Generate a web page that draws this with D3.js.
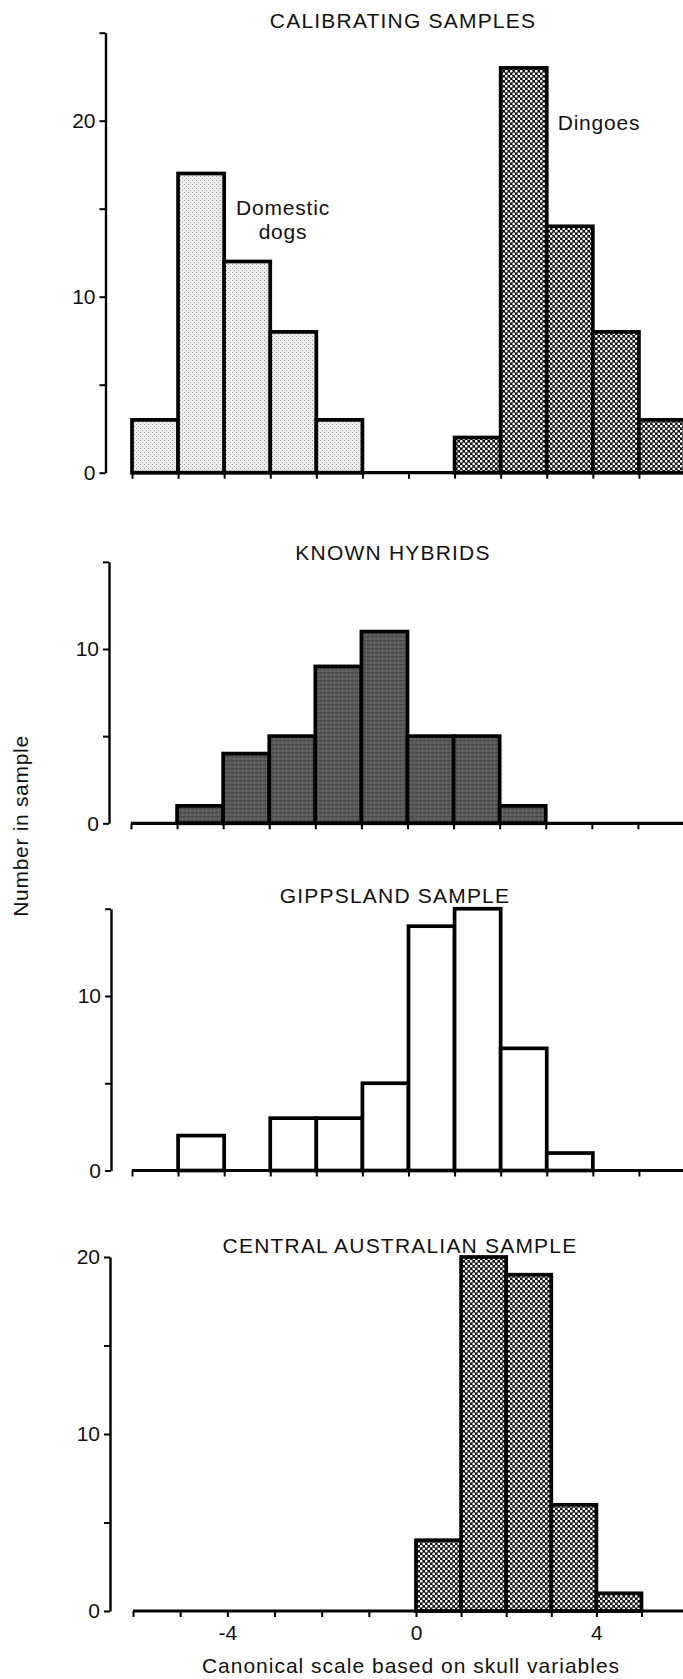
<!DOCTYPE html>
<html>
<head>
<meta charset="utf-8">
<script src="https://cdn.jsdelivr.net/npm/d3@7"></script>
<style>
  body { margin: 0; background: #fff; }
  svg text { font-family: "Liberation Sans", Arial, sans-serif; fill: #111; }
</style>
</head>
<body>
<div id="chartRegion"></div>
<script>
/* bin lower edges and counts */
var domesticBins = [-6, -5, -4, -3, -2];
var domesticCounts = [3, 17, 12, 8, 3];
var dingoBins = [1, 2, 3, 4, 5];
var dingoCounts = [2, 23, 14, 8, 3];
var hybridBins = [-5, -4, -3, -2, -1, 0, 1, 2];
var hybridCounts = [1, 4, 5, 9, 11, 5, 5, 1];
var gippslandBins = [-5, -4, -3, -2, -1, 0, 1, 2, 3];
var gippslandCounts = [2, 0, 3, 3, 5, 14, 15, 7, 1];
var centralBins = [0, 1, 2, 3, 4];
var centralCounts = [4, 20, 19, 6, 1];

var xTicks = [-6, -5, -4, -3, -2, -1, 0, 1, 2, 3, 4, 5];
var xTickLabels = [-4, 0, 4];

var titles = ["CALIBRATING SAMPLES", "KNOWN HYBRIDS", "GIPPSLAND SAMPLE", "CENTRAL AUSTRALIAN SAMPLE"];
var yMax = [25, 15, 15, 20];

var W = 683, H = 1679;
var svg = d3.select("#chartRegion").append("svg").attr("width", W).attr("height", H);

/* fill patterns standing in for the printed screens */
var defs = svg.append("defs");
var p1 = defs.append("pattern").attr("id", "light").attr("patternUnits", "userSpaceOnUse").attr("width", 4).attr("height", 4);
p1.append("rect").attr("width", 4).attr("height", 4).attr("fill", "#ececec");
p1.append("rect").attr("x", 0).attr("y", 0).attr("width", 1).attr("height", 1).attr("fill", "#9a9a9a");
p1.append("rect").attr("x", 2).attr("y", 2).attr("width", 1).attr("height", 1).attr("fill", "#b0b0b0");

var p2 = defs.append("pattern").attr("id", "check").attr("patternUnits", "userSpaceOnUse").attr("width", 5).attr("height", 5);
p2.append("rect").attr("width", 5).attr("height", 5).attr("fill", "#111");
p2.append("circle").attr("cx", 1.25).attr("cy", 1.25).attr("r", 1.35).attr("fill", "#fff");
p2.append("circle").attr("cx", 3.75).attr("cy", 3.75).attr("r", 1.35).attr("fill", "#fff");

var p3 = defs.append("pattern").attr("id", "dark").attr("patternUnits", "userSpaceOnUse").attr("width", 4).attr("height", 4);
p3.append("rect").attr("width", 4).attr("height", 4).attr("fill", "#585858");
p3.append("rect").attr("x", 0).attr("y", 0).attr("width", 2).attr("height", 1).attr("fill", "#454545");
p3.append("rect").attr("x", 2).attr("y", 2).attr("width", 1).attr("height", 2).attr("fill", "#6c6c6c");
p3.append("rect").attr("x", 3).attr("y", 0).attr("width", 1).attr("height", 1).attr("fill", "#4c4c4c");

/* panel layout: baseline y, pixels per count, y-axis x, title baseline and centre */
var panels = [
  { y0: 472.7, unit: 17.6, ax: 105.5, ty: 28, tx: 403, xr: [[-6, 6], [132, 685]],
    series: [{ bins: domesticBins, counts: domesticCounts, fill: "url(#light)" },
             { bins: dingoBins, counts: dingoCounts, fill: "url(#check)" }] },
  { y0: 823.3, unit: 17.43, ax: 109, ty: 560, tx: 393, xr: [[-6, 6], [131, 684]],
    series: [{ bins: hybridBins, counts: hybridCounts, fill: "url(#dark)" }] },
  { y0: 1170.5, unit: 17.45, ax: 111, ty: 903, tx: 395, xr: [[-6, 6], [132, 685]],
    series: [{ bins: gippslandBins, counts: gippslandCounts, fill: "#fff" }] },
  { y0: 1611, unit: 17.7, ax: 110, ty: 1253, tx: 400, xr: [[-6, 0, 5], [133, 416, 641.5]],
    series: [{ bins: centralBins, counts: centralCounts, fill: "url(#check)" }] }
];

panels.forEach(function(p, i) {
  var x = d3.scaleLinear().domain(p.xr[0]).range(p.xr[1]);
  var y = d3.scaleLinear().domain([0, yMax[i]]).range([p.y0, p.y0 - yMax[i] * p.unit]);
  var g = svg.append("g");

  p.series.forEach(function(s) {
    var rows = s.bins.map(function(b, k) { return { x0: b, n: s.counts[k] }; })
      .filter(function(d) { return d.n > 0; });
    g.selectAll(null).data(rows).enter().append("rect")
      .attr("x", function(d) { return x(d.x0); })
      .attr("width", function(d) { return x(d.x0 + 1) - x(d.x0); })
      .attr("y", function(d) { return y(d.n); })
      .attr("height", function(d) { return y(0) - y(d.n); })
      .attr("fill", s.fill)
      .attr("stroke", "#000")
      .attr("stroke-width", 3.7)
      .attr("stroke-linejoin", "miter");
  });

  /* x axis: baseline runs to the right edge */
  var xa = d3.axisBottom(x).tickValues(xTicks).tickSizeInner(6).tickSizeOuter(0).tickPadding(8)
    .tickFormat(function(d) { return (i === 3 && xTickLabels.indexOf(d) >= 0) ? d : ""; });
  var gx = g.append("g").attr("transform", "translate(0," + p.y0 + ")").call(xa);
  gx.select(".domain").attr("d", "M" + x(-6) + ",0H" + W).attr("stroke-width", 3.2);
  gx.selectAll(".tick line").attr("stroke-width", 2);
  gx.selectAll("text").attr("font-size", 21).attr("font-family", null);

  /* y axis */
  var yt = d3.range(0, yMax[i] + 1, 5);
  var ya = d3.axisLeft(y).tickValues(yt).tickSizeInner(6).tickSizeOuter(0).tickPadding(4)
    .tickFormat(function(d) { return d % 10 === 0 ? d : ""; });
  var gy = g.append("g").attr("transform", "translate(" + p.ax + ",0)").call(ya);
  gy.select(".domain").attr("stroke-width", 2.4);
  gy.selectAll(".tick line").attr("stroke-width", 2);
  gy.selectAll("text").attr("font-size", 21).attr("font-family", null);

  g.append("text").attr("x", p.tx).attr("y", p.ty).attr("text-anchor", "middle")
    .attr("font-size", 21).attr("letter-spacing", 1.2).text(titles[i]);
});

/* labels in the top panel */
svg.append("text").attr("x", 283).attr("y", 215).attr("text-anchor", "middle")
  .attr("font-size", 21).attr("letter-spacing", 0.8).text("Domestic");
svg.append("text").attr("x", 283).attr("y", 239).attr("text-anchor", "middle")
  .attr("font-size", 21).attr("letter-spacing", 0.8).text("dogs");
svg.append("text").attr("x", 599).attr("y", 130).attr("text-anchor", "middle")
  .attr("font-size", 21).attr("letter-spacing", 0.8).text("Dingoes");

/* axis titles */
svg.append("text").attr("transform", "translate(28,826) rotate(-90)").attr("text-anchor", "middle")
  .attr("font-size", 21).attr("letter-spacing", 0.7).text("Number in sample");
svg.append("text").attr("x", 411).attr("y", 1673).attr("text-anchor", "middle")
  .attr("font-size", 21).attr("letter-spacing", 1).text("Canonical scale based on skull variables");
</script>
</body>
</html>
